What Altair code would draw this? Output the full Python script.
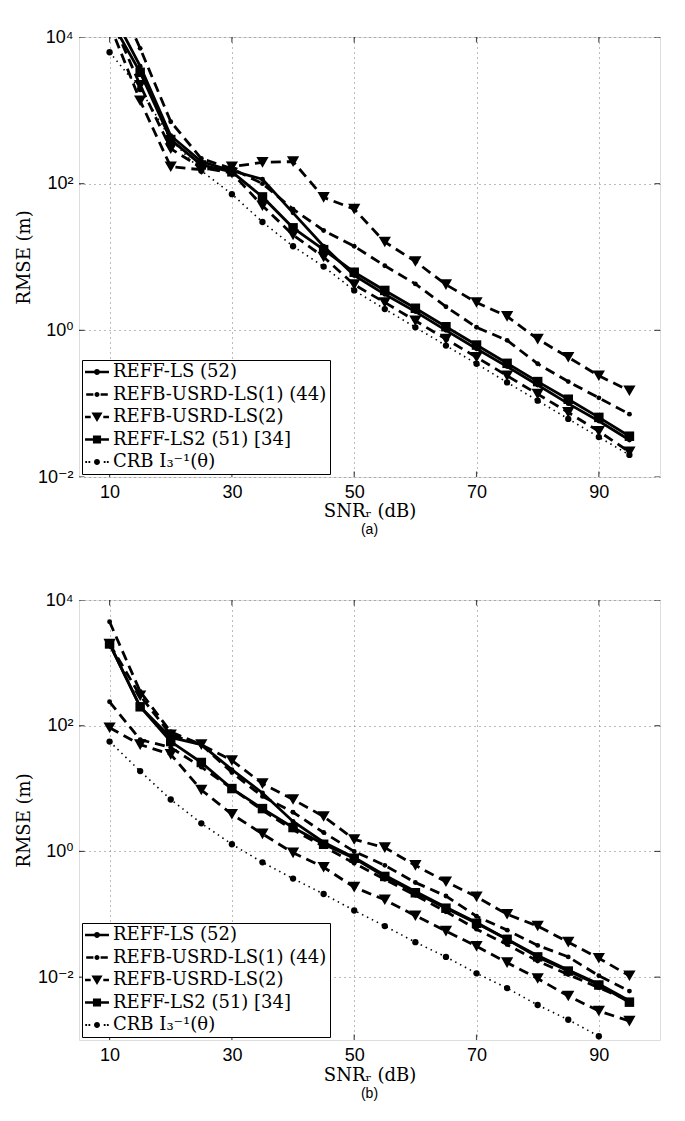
import altair as alt
import pandas as pd

# ---------------- data ----------------
SNR = [10, 15, 20, 25, 30, 35, 40, 45, 50, 55, 60, 65, 70, 75, 80, 85, 90, 95]
X_TICKS = [10, 30, 50, 70, 90]
Y_TICKS = [1e-2, 1e0, 1e2, 1e4]

LEGEND_LABELS = ["REFF-LS (52)", "REFB-USRD-LS(1) (44)", "REFB-USRD-LS(2)",
                 "REFF-LS2 (51) [34]", "CRB I₃⁻¹(θ)"]

# panel (a)
A_REFF_LS = [25000, 4000, 450, 200, 150, 115, 40, 14, 5.6, 3.1, 1.8, 1.0, 0.56, 0.32, 0.18, 0.10, 0.058, 0.032]
A_USRD1 = [60000, 7000, 700, 220, 160, 100, 45, 23, 14, 7.6, 4.3, 2.1, 1.1, 0.73, 0.35, 0.20, 0.12, 0.072]
A_USRD2_HI = [15000, 1350, 170, 155, 170, 195, 200, 65, 45, 16, 8.7, 4.2, 2.4, 1.55, 0.76, 0.43, 0.24, 0.15]
A_USRD2_LO = [20000, 2200, 300, 165, 140, 50, 20, 10, 4.2, 2.4, 1.35, 0.76, 0.43, 0.24, 0.135, 0.076, 0.042, 0.022]
A_REFF_LS2 = [18000, 3300, 400, 180, 145, 66, 25, 12.6, 6.2, 3.5, 2.0, 1.12, 0.63, 0.355, 0.20, 0.115, 0.065, 0.036]
A_CRB = [6200, 1950, 400, 150, 72, 30, 14, 7.4, 3.5, 1.95, 1.1, 0.62, 0.35, 0.195, 0.11, 0.062, 0.035, 0.020]

# panel (b)
B_REFF_LS = [2000, 200, 65, 50, 20, 8.5, 3.0, 1.4, 0.80, 0.42, 0.23, 0.13, 0.074, 0.040, 0.022, 0.013, 0.0078, 0.0042]
B_USRD1_HI = [4500, 350, 80, 50, 18, 7.5, 4.2, 2.0, 1.0, 0.60, 0.32, 0.195, 0.093, 0.056, 0.032, 0.021, 0.0105, 0.006]
B_USRD1_LO = [240, 60, 45, 22, 10, 4.5, 2.2, 1.2, 0.65, 0.36, 0.20, 0.11, 0.058, 0.033, 0.018, 0.011, 0.0068, 0.0042]
B_USRD2_HI = [2000, 300, 72, 50, 28, 12, 6.7, 3.6, 1.55, 1.15, 0.60, 0.33, 0.19, 0.10, 0.065, 0.036, 0.020, 0.0105]
B_USRD2_LO = [93, 50, 35, 9.5, 3.9, 1.9, 0.95, 0.56, 0.27, 0.17, 0.095, 0.054, 0.031, 0.017, 0.0095, 0.005, 0.0029, 0.002]
B_REFF_LS2 = [2000, 200, 56, 26, 10, 4.8, 2.4, 1.3, 0.78, 0.40, 0.22, 0.125, 0.072, 0.040, 0.021, 0.0125, 0.0075, 0.004]
B_CRB = [56, 19, 6.7, 2.8, 1.3, 0.67, 0.37, 0.21, 0.115, 0.065, 0.036, 0.021, 0.0115, 0.0067, 0.0036, 0.0021, 0.00115, None]

# (series id, legend index, style, values)
SERIES_A = [
    ("crb", 4, "crb", A_CRB),
    ("usrd1", 1, "dot_dashed", A_USRD1),
    ("usrd2_hi", 2, "tri_dashed", A_USRD2_HI),
    ("usrd2_lo", 2, "tri_dashed", A_USRD2_LO),
    ("reff_ls", 0, "dot_solid", A_REFF_LS),
    ("reff_ls2", 3, "sq_solid", A_REFF_LS2),
]
SERIES_B = [
    ("crb", 4, "crb", B_CRB),
    ("usrd1_hi", 1, "dot_dashed", B_USRD1_HI),
    ("usrd1_lo", 1, "dot_dashed", B_USRD1_LO),
    ("usrd2_hi", 2, "tri_dashed", B_USRD2_HI),
    ("usrd2_lo", 2, "tri_dashed", B_USRD2_LO),
    ("reff_ls", 0, "dot_solid", B_REFF_LS),
    ("reff_ls2", 3, "sq_solid", B_REFF_LS2),
]

# ---------------- styles ----------------
STYLE = {
    "dot_solid": dict(dash=None, width=2.8, shape="circle", size=24),
    "dot_dashed": dict(dash=[10, 6], width=2.8, shape="circle", size=24),
    "tri_dashed": dict(dash=[10, 6], width=2.8, shape="triangle-down", size=150),
    "sq_solid": dict(dash=None, width=2.8, shape="square", size=90),
    "crb": dict(dash=[1.5, 4], width=1.6, shape="circle", size=40),
}


def _rect(x1, x2, t=0.145):
    return f"M{x1},{-t}L{x2},{-t}L{x2},{t}L{x1},{t}Z"


def _dot(r, cx=0.0):
    return (f"M{cx + r},0A{r},{r} 0 1,1 {cx - r},0A{r},{r} 0 1,1 {cx + r},0Z")


# legend glyphs (line segment + marker), drawn only with fills
LEGEND_PATHS = [
    _rect(-1.33, -0.3) + _rect(0.3, 1.33) + _dot(0.33),
    _rect(-1.2, -0.4) + _dot(0.28) + _rect(0.4, 1.2),
    _rect(-1.33, -0.7) + _rect(0.7, 1.33) + "M-0.62,-0.5L0.62,-0.5L0,0.55Z",
    _rect(-1.33, -0.45) + _rect(0.45, 1.33) + "M-0.45,-0.45L0.45,-0.45L0.45,0.45L-0.45,0.45Z",
    _rect(-1.3, -1.1, 0.1) + _rect(-0.95, -0.75, 0.1) + _rect(0.75, 0.95, 0.1)
    + _rect(1.1, 1.3, 0.1) + _dot(0.33),
]

SANS = "Liberation Sans, DejaVu Sans"
SERIF = "DejaVu Serif"
W, H = 581, 440

Y_LABEL_EXPR = ("datum.value > 1000 ? '10⁴' : datum.value > 10 ? '10²' : "
                "datum.value > 0.1 ? '10⁰' : '10⁻²'")


def build_panel(series, y_min, caption, x_title_pad):
    rows = []
    for sid, leg, sty, vals in series:
        for xv, yv in zip(SNR, vals):
            rows.append(dict(sid=sid, legend=LEGEND_LABELS[leg], x=xv, y=yv))
    df = pd.DataFrame(rows)

    xs = alt.Scale(domain=[5, 100], nice=False, zero=False)
    ys = alt.Scale(type="log", domain=[y_min, 1e4], nice=False)

    xaxis = alt.Axis(values=X_TICKS, grid=True, gridDash=[1, 4], gridColor="#777",
                     gridWidth=1, domain=False, ticks=False, labelFont=SANS,
                     labelFontSize=18, labelColor="black", labelPadding=6,
                     title="SNRᵣ  (dB)", titleFont=SERIF, titleFontSize=18,
                     titleFontWeight="normal", titleColor="black",
                     titlePadding=x_title_pad)
    yaxis = alt.Axis(values=Y_TICKS, grid=True, gridDash=[1, 4], gridColor="#777",
                     gridWidth=1, domain=False, ticks=False, labelFont=SANS,
                     labelFontSize=18, labelColor="black", labelPadding=6,
                     labelExpr=Y_LABEL_EXPR, title="RMSE (m)", titleFont=SERIF,
                     titleFontSize=18, titleFontWeight="normal", titleColor="black",
                     titlePadding=4)
    X = lambda: alt.X("x:Q", scale=xs, axis=xaxis)
    Y = lambda: alt.Y("y:Q", scale=ys, axis=yaxis)

    legend = alt.Legend(
        title=None, orient="bottom-left", offset=3,
        strokeColor="black", fillColor="white", padding=3, cornerRadius=0,
        labelFont=SERIF, labelFontSize=18, labelColor="black", labelLimit=600,
        labelOffset=7, symbolSize=324, symbolOffset=3, symbolStrokeWidth=0,
        symbolFillColor="black", symbolStrokeColor="black", symbolOpacity=1,
        rowPadding=4.5,
    )

    base = alt.Chart(df)
    layers = [
        base.mark_point(opacity=0, filled=True, color="black").encode(
            x=X(), y=Y(),
            shape=alt.Shape("legend:N",
                            scale=alt.Scale(domain=LEGEND_LABELS, range=LEGEND_PATHS),
                            legend=legend),
        )
    ]
    for sid, leg, sty, vals in series:
        st = STYLE[sty]
        sub = base.transform_filter(alt.datum.sid == sid)
        line_kw = dict(color="black", strokeWidth=st["width"], clip=True)
        if st["dash"]:
            line_kw["strokeDash"] = st["dash"]
        layers.append(sub.mark_line(**line_kw).encode(x=X(), y=Y()))
        layers.append(sub.mark_point(shape=st["shape"], size=st["size"], filled=True,
                                     color="black", opacity=1, clip=True).encode(x=X(), y=Y()))

    # inward tick marks on all four sides
    tick_top = pd.DataFrame({"x": X_TICKS, "y": [1e4] * len(X_TICKS)})
    tick_bot = pd.DataFrame({"x": X_TICKS, "y": [y_min] * len(X_TICKS)})
    tick_right = pd.DataFrame({"x": [100] * len(Y_TICKS), "y": Y_TICKS})
    tick_left = pd.DataFrame({"x": [5] * len(Y_TICKS), "y": Y_TICKS})
    for tdf, orient in [(tick_top, "vertical"), (tick_bot, "vertical"),
                        (tick_right, "horizontal"), (tick_left, "horizontal")]:
        layers.append(alt.Chart(tdf).mark_tick(orient=orient, size=11, thickness=1.2,
                                               color="black", clip=True).encode(x=X(), y=Y()))

    return alt.layer(*layers).properties(
        width=W, height=H,
        title=alt.TitleParams(caption, orient="bottom", anchor="middle", frame="group",
                              font=SANS, fontSize=14, fontWeight="normal",
                              color="black", offset=3),
    )


panel_a = build_panel(SERIES_A, 1e-2, "(a)", 1)
panel_b = build_panel(SERIES_B, 1e-3, "(b)", 2)

# the clipped line ends above 10^4 in panel (a) still count in the layout
# bounds, so the top padding is pulled back to keep the plot where it belongs
chart = alt.vconcat(panel_a, panel_b, spacing=52).resolve_scale(
    shape="independent").resolve_legend(shape="independent").properties(
    padding={"left": 6, "top": -30, "right": 5, "bottom": 5}
).configure_view(stroke="black", strokeWidth=1.2).configure(background="white")

chart.save("out.html", embed_options={"renderer": "svg", "actions": False})
